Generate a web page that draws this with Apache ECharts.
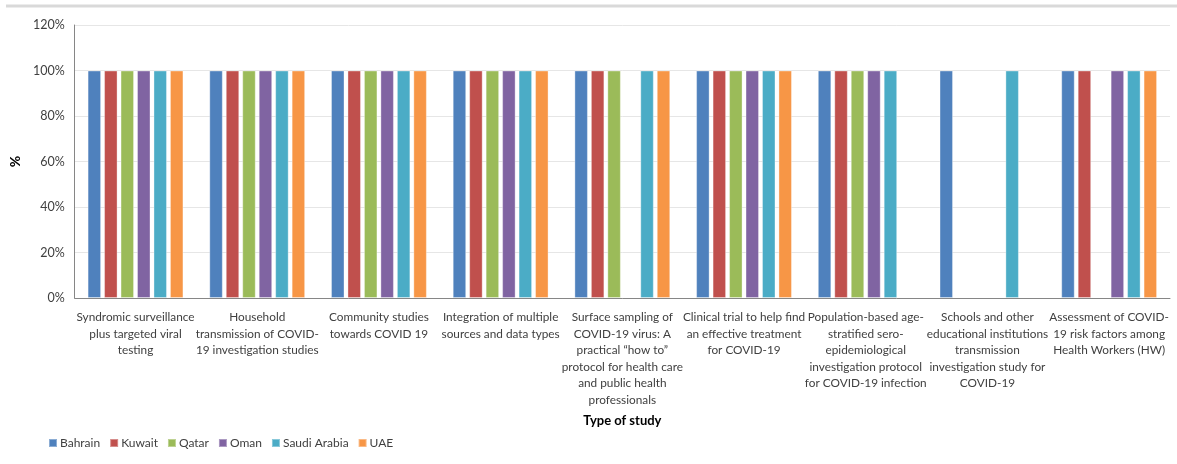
<!DOCTYPE html>
<html><head><meta charset="utf-8">
<script src="https://cdn.jsdelivr.net/npm/echarts@6/dist/echarts.min.js"></script>
<style>html,body{margin:0;padding:0;background:#fff}#c{width:1177px;height:464px}</style>
</head><body><div id="c"></div>
<script>
const categories = [
  "Syndromic surveillance\nplus targeted viral\ntesting",
  "Household\ntransmission of COVID-\n19 investigation studies",
  "Community studies\ntowards COVID 19",
  "Integration of multiple\nsources and data types",
  "Surface sampling of\nCOVID-19 virus: A\npractical \u201chow to\u201d\nprotocol for health care\nand public health\nprofessionals",
  "Clinical trial to help find\nan effective treatment\nfor COVID-19",
  "Population-based age-\nstratified sero-\nepidemiological\ninvestigation protocol\nfor COVID-19 infection",
  "Schools and other\neducational institutions\ntransmission\ninvestigation study for\nCOVID-19",
  "Assessment of COVID-\n19 risk factors among\nHealth Workers (HW)"
];
const bahrain = [100,100,100,100,100,100,100,100,100];
const kuwait  = [100,100,100,100,100,100,100,null,100];
const qatar   = [100,100,100,100,100,100,100,null,null];
const oman    = [100,100,100,100,null,100,100,null,100];
const saudi   = [100,100,100,100,100,100,100,100,100];
const uae     = [100,100,100,100,100,100,null,null,100];
const seriesNames = ["Bahrain","Kuwait","Qatar","Oman","Saudi Arabia","UAE"];
const seriesData = [bahrain,kuwait,qatar,oman,saudi,uae];
const colors = ["#4F81BD","#C0504D","#9BBB59","#8064A2","#4BACC6","#F79646"];

const chart = echarts.init(document.getElementById('c'));
chart.setOption({
  animation:false,
  color:colors,
  textStyle:{fontFamily:"Lato, 'Open Sans', sans-serif"},
  graphic:[{type:'line',shape:{x1:6,y1:6,x2:1177,y2:6},style:{stroke:'#d9d9d9',lineWidth:3},silent:true}],
  legend:{left:43,top:432,itemWidth:8,itemHeight:8,itemGap:9,icon:'rect',
    textStyle:{fontSize:12,color:'#404040',padding:[0,0,0,-2]},data:seriesNames},
  grid:{left:73,right:7,top:25,bottom:166,containLabel:false},
  xAxis:{type:'category',data:categories,
    name:'Type of study',nameLocation:'middle',nameGap:116,
    nameTextStyle:{fontSize:13,fontWeight:'bold',color:'#000'},
    axisLine:{lineStyle:{color:'#868686',width:1}},axisTick:{show:false},
    axisLabel:{interval:0,fontSize:11.8,color:'#404040',lineHeight:16.5,margin:11}},
  yAxis:{type:'value',min:0,max:120,interval:20,
    name:'%',nameLocation:'middle',nameGap:49,nameRotate:90,
    nameTextStyle:{fontSize:14,fontWeight:'bold',color:'#000'},
    axisLine:{show:true,lineStyle:{color:'#868686'}},axisTick:{show:false},
    splitLine:{lineStyle:{color:'#e6e6e6',width:1}},
    axisLabel:{formatter:'{value}%',fontSize:12.5,color:'#404040',margin:10}},
  series:seriesNames.map((n,i)=>({name:n,type:'bar',data:seriesData[i],barWidth:13.5,barGap:'22%',
    itemStyle:{borderColor:'rgba(255,255,255,0.35)',borderWidth:1}}))
});
</script></body></html>
